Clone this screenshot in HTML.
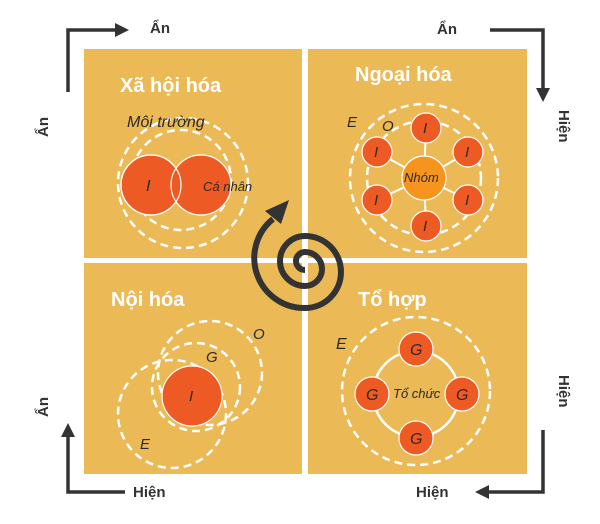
<!DOCTYPE html>
<html><head><meta charset="utf-8"><style>
body{margin:0;background:#fff;width:600px;height:524px;overflow:hidden}
svg{display:block}
text{font-family:"Liberation Sans",sans-serif}
.t{fill:#fff;font-weight:bold;font-size:20px}
.i{font-style:italic;fill:#2a2a2a;font-size:13px}
.a{font-weight:bold;fill:#333;font-size:15px}
.d{fill:none;stroke:#fff;stroke-width:2.5;stroke-dasharray:8 5}
.r{fill:#EE5A24;stroke:#fff;stroke-width:1.2}
</style></head><body>
<svg width="600" height="524" viewBox="0 0 600 524">
<defs><marker id="m" markerWidth="4" markerHeight="4" refX="2" refY="2" orient="auto" markerUnits="strokeWidth"><path d="M0,0L4,2L0,4z" fill="#333"/></marker></defs>
<g fill="#EBB955">
<rect x="84" y="49" width="218" height="209"/>
<rect x="308" y="49" width="219" height="209"/>
<rect x="84" y="263" width="218" height="211"/>
<rect x="308" y="263" width="219" height="211"/>
</g>
<g stroke="#333" stroke-width="3.5" fill="none">
<path d="M68,92V30H122" marker-end="url(#m)"/>
<path d="M490,30H543V95" marker-end="url(#m)"/>
<path d="M125,492H68V430" marker-end="url(#m)"/>
<path d="M543,430V492H482" marker-end="url(#m)"/>
</g>
<text class="a" x="150" y="33">Ẩn</text>
<text class="a" x="437" y="34">Ẩn</text>
<text class="a" x="133" y="497">Hiện</text>
<text class="a" x="416" y="497">Hiện</text>
<text class="a" transform="translate(48,137) rotate(-90)">Ẩn</text>
<text class="a" transform="translate(48,417) rotate(-90)">Ẩn</text>
<text class="a" transform="translate(559,110) rotate(90)">Hiện</text>
<text class="a" transform="translate(559,375) rotate(90)">Hiện</text>
<text class="t" x="120" y="92">Xã hội hóa</text>
<circle class="d" cx="183" cy="183" r="65"/>
<circle class="d" cx="181" cy="180" r="50"/>
<circle class="r" cx="151" cy="185" r="30"/>
<circle class="r" cx="201" cy="185" r="30"/>
<circle cx="151" cy="185" r="30" fill="none" stroke="#fff" stroke-width="1.2"/>
<text class="i" x="127" y="127" style="font-size:16px">Môi trường</text>
<text class="i" x="146" y="191" style="font-size:16px">I</text>
<text class="i" x="203" y="191" style="font-size:13px">Cá nhân</text>
<text class="t" x="355" y="81">Ngoại hóa</text>
<circle class="d" cx="424" cy="178" r="74"/>
<circle class="d" cx="424" cy="178" r="57"/>
<g stroke="#fff" stroke-width="2">
<line x1="424" y1="178" x2="426" y2="128"/><line x1="424" y1="178" x2="468" y2="152"/><line x1="424" y1="178" x2="468" y2="200"/>
<line x1="424" y1="178" x2="426" y2="226"/><line x1="424" y1="178" x2="377" y2="200"/><line x1="424" y1="178" x2="377" y2="152"/>
</g>
<circle cx="424" cy="178" r="22" fill="#F7941D" stroke="#fff" stroke-width="1.2"/>
<g class="r"><circle cx="426" cy="128" r="15"/><circle cx="468" cy="152" r="15"/><circle cx="468" cy="200" r="15"/><circle cx="426" cy="226" r="15"/><circle cx="377" cy="200" r="15"/><circle cx="377" cy="152" r="15"/></g>
<g class="i" style="font-size:15px"><text x="423" y="133">I</text><text x="465" y="157">I</text><text x="465" y="205">I</text><text x="423" y="231">I</text><text x="374" y="205">I</text><text x="374" y="157">I</text>
<text x="347" y="127">E</text><text x="382" y="131">O</text></g>
<text class="i" x="404" y="182" style="font-size:13px">Nhóm</text>
<text class="t" x="111" y="306">Nội hóa</text>
<circle class="d" cx="210" cy="373" r="52"/>
<circle class="d" cx="196" cy="387" r="44"/>
<circle class="d" cx="172" cy="414" r="54"/>
<circle class="r" cx="192" cy="396" r="30"/>
<g class="i" style="font-size:15px"><text x="189" y="401">I</text><text x="253" y="339">O</text><text x="206" y="362">G</text><text x="140" y="449">E</text></g>
<text class="t" x="358" y="306">Tổ hợp</text>
<circle class="d" cx="416" cy="391" r="74"/>
<circle cx="416" cy="394" r="43" fill="none" stroke="#fff" stroke-width="2.5"/>
<g class="r"><circle cx="416" cy="349" r="17"/><circle cx="372" cy="394" r="17"/><circle cx="462" cy="394" r="17"/><circle cx="416" cy="438" r="17"/></g>
<g class="i" style="font-size:16px"><text x="410" y="355">G</text><text x="366" y="400">G</text><text x="456" y="400">G</text><text x="410" y="444">G</text><text x="336" y="349">E</text></g>
<text class="i" x="393" y="398" style="font-size:13px">Tổ chức</text>
<rect x="302" y="49" width="6" height="425" fill="#fff"/>
<rect x="84" y="258" width="443" height="5" fill="#fff"/>
<path d="M305,270 A9,9 0 0 1 305,252 A17,17 0 0 1 305,286 A25,25 0 0 1 305,236 A36,36 0 0 1 305,308 A50,50 0 0 1 273,219" fill="none" stroke="#333" stroke-width="6" stroke-linecap="butt"/>
<path d="M265,211 L289,200 L281,224 z" fill="#333"/>
</svg>
</body></html>
